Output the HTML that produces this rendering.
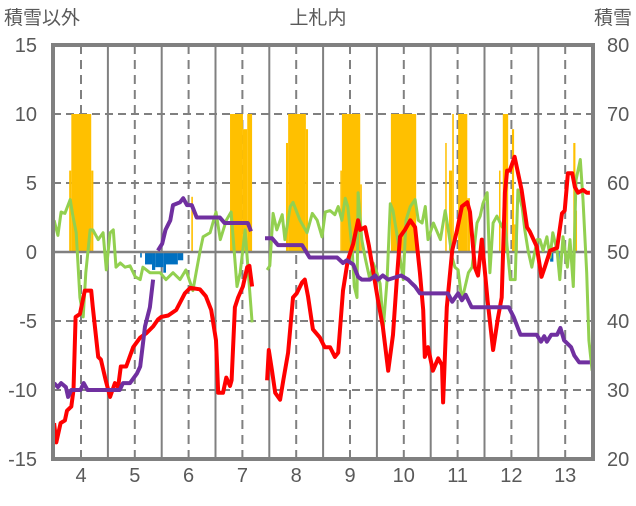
<!DOCTYPE html>
<html><head><meta charset="utf-8"><style>
body{margin:0;background:#fff;}
svg text{font-family:"Liberation Sans","Noto Sans CJK JP",sans-serif;fill:#595959;}
</style></head><body>
<svg id="c" width="636" height="501" xmlns="http://www.w3.org/2000/svg">
<text x="4" y="24" font-size="19">積雪以外</text>
<text x="318" y="24" font-size="19" text-anchor="middle">上札内</text>
<text x="632" y="24" font-size="19" text-anchor="end">積雪</text>
</svg>
<script>
const dayTicks=[4,5,6,7,8,9,10,11,12,13];
const leftTicks=[15,10,5,0,-5,-10,-15];
const rightTicks=[80,70,60,50,40,30,20];
const redT=[3.50,3.54,3.62,3.70,3.74,3.82,3.86,3.90,3.98,4.07,4.19,4.22,4.32,4.37,4.46,4.54,4.63,4.69,4.74,4.84,4.97,5.10,5.21,5.34,5.43,5.49,5.62,5.77,5.93,6.03,6.21,6.32,6.42,6.51,6.55,6.64,6.70,6.77,6.80,6.86,6.92,7.01,7.09,7.13,7.18,null,7.46,7.49,7.55,7.61,7.70,7.76,7.85,7.94,8.01,8.11,8.16,8.22,8.31,8.44,8.53,8.63,8.72,8.78,8.87,8.96,9.06,9.15,9.19,9.28,9.35,9.52,9.61,9.71,9.80,9.87,9.93,10.02,10.12,10.21,10.30,10.36,10.39,10.45,10.54,10.64,10.71,10.73,10.80,10.90,10.99,11.08,11.18,11.23,11.32,11.38,11.45,11.51,11.56,11.66,11.75,11.82,11.88,11.92,11.97,12.06,12.19,12.29,12.34,12.47,12.56,12.62,12.72,12.85,12.94,12.99,13.05,13.13,13.18,13.24,13.33,13.40,13.46];
const redV=[-12.4,-13.8,-12.4,-12.2,-11.5,-11.2,-10,-4.7,-4.5,-2.8,-2.8,-4,-7.6,-7.8,-9.3,-10.5,-9.5,-9.8,-8.3,-8.3,-6.9,-6.2,-5.9,-5.4,-4.9,-4.7,-4.6,-4.2,-3.0,-2.6,-2.7,-3.2,-4.2,-6.4,-10.2,-10.2,-9.1,-9.7,-9.3,-4,-3.3,-2.5,-1.1,-1.0,-2.5,null,-9.3,-7.1,-8.6,-10.2,-10.7,-9.3,-7.3,-3.3,-3.0,-2.2,-2.0,-3.2,-5.6,-6.2,-6.9,-6.9,-7.6,-7.3,-2.8,-0.6,0.6,2.3,1.6,1.8,0.5,-3.5,-5.4,-8.6,-6,-2,1.1,1.6,2.3,1.8,-1.5,-4.2,-7.6,-6.9,-8.6,-7.7,-8.2,-10.9,-4,0.1,1.6,3.3,3.6,2.9,-1.1,-1.7,0.9,-1.5,-3.6,-7.1,-4.8,-3.3,4.3,5.9,5.9,6.9,4.5,1.8,1.5,0.4,-1.8,-1.1,0.1,0.3,2.8,3,5.7,5.7,4.7,4.3,4.5,4.3,4.3];
const greenT=[3.50,3.57,3.63,3.70,3.80,3.85,3.91,3.98,4.04,4.09,4.17,4.22,4.32,4.41,4.47,4.54,4.60,4.65,4.73,4.82,4.91,5.01,5.10,5.15,5.28,5.38,5.47,5.58,5.71,5.84,5.95,6.08,6.14,6.21,6.27,6.40,6.51,6.59,6.70,6.79,6.83,6.90,6.96,7.05,7.11,7.18,null,7.46,7.51,7.57,7.64,7.74,7.79,7.89,7.94,8.07,8.20,8.30,8.39,8.48,8.54,8.63,8.72,8.78,8.85,8.91,8.96,9.04,9.08,9.13,9.15,9.22,9.28,9.37,9.43,9.50,9.56,9.62,9.69,9.75,9.80,9.88,9.93,9.99,10.04,10.12,10.21,10.27,10.34,10.40,10.45,10.55,10.68,10.77,10.82,10.90,10.95,11.01,11.08,11.20,11.27,11.36,11.42,11.47,11.55,11.60,11.66,11.73,11.83,11.88,11.98,12.07,12.12,12.20,12.25,12.31,12.38,12.48,12.53,12.59,12.66,12.72,12.77,12.85,12.90,12.96,13.04,13.09,13.15,13.20,13.28,13.33,13.40,13.44,13.50];
const greenV=[2.3,1.2,2.9,2.8,3.8,2.6,1.4,-3.3,-4.7,-1.5,1.6,1.6,0.9,1.4,-1.3,1.4,1.6,-1.1,-0.8,-1.1,-1.0,-1.8,-2.0,-1.1,-1.5,-1.5,-1.5,-2.0,-1.5,-2.0,-1.3,-2.8,-1.5,0,1.1,1.4,2.9,0.9,2.3,2.9,0.9,-2.5,-1.5,1.6,-1.5,-5.1,null,-1.3,-1.0,2.8,1.6,2.7,0.9,3.3,3.6,2.3,1.4,2.8,2.3,1.1,2.9,3.0,2.7,3.3,2.3,3.9,3.3,0.1,-2.5,-3.3,4.3,0.9,-0.4,-2,-0.8,-1.5,-2.3,-5.4,-2,3.5,3,1.1,-0.4,-2,2.3,3.3,3.8,2.3,2.1,3.3,0.9,2.1,0.9,3.0,1.8,-0.4,-1.1,-1.3,-3.5,-1.5,-1.1,2.1,2.6,3.5,4.3,-1.5,2.1,2.6,1.8,2.1,-2,-2,4.5,3.2,1.6,0.1,-1.1,0.9,0.9,0.1,1.1,-0.4,1.4,0.1,-2,1.1,-1.1,0.9,-2.5,5.2,6.7,3.8,-1.5,-6.4,-8.6,-7.8];
const purpleT=[3.50,3.57,3.63,3.72,3.76,3.82,3.99,4.05,4.12,4.72,4.78,4.91,5.04,5.10,5.19,5.28,5.34,null,5.43,5.51,5.57,5.66,5.71,5.84,5.90,5.97,6.06,6.15,6.58,6.67,6.76,7.10,7.16,null,7.42,7.55,7.66,8.11,8.25,8.76,8.87,8.94,9.06,9.15,9.22,9.37,9.47,9.52,9.61,9.71,9.95,10.08,10.13,10.21,10.30,10.82,10.90,11.01,11.08,11.15,11.26,11.95,12.04,12.17,12.47,12.55,12.61,12.66,12.74,12.85,12.91,12.98,13.11,13.17,13.26,13.46];
const purpleV=[-9.5,-9.8,-9.5,-9.8,-10.5,-10,-10,-9.5,-10,-10,-9.5,-9.5,-8.8,-8.3,-5.4,-4,-2,null,0.1,0.6,1.6,2.3,3.4,3.6,3.9,3.4,3.4,2.5,2.5,2.1,2.1,2.1,1.5,null,1.0,1.0,0.5,0.5,-0.4,-0.4,-0.8,-0.6,-0.9,-1.8,-2,-2,-1.7,-2,-1.7,-2,-1.7,-2,-2.2,-2.5,-3,-3,-3.6,-3,-3.5,-3.1,-4,-4,-4.7,-6,-6,-6.5,-6.1,-6.5,-6,-6,-5.5,-6.4,-6.9,-7.5,-8.0,-8.0];
const snowStart=[3.78,3.82,4.19,6.05,6.77,7.01,7.09,7.81,7.85,8.18,8.82,8.85,9.19,9.76,10.77,10.84,10.90,11.01,11.18,11.77,11.84,12.01,12.05,13.15,13.19];
const snowEnd=[3.82,4.19,4.23,6.08,7.01,7.09,7.18,7.85,8.18,8.22,8.85,9.19,9.22,10.23,10.79,10.90,10.93,11.18,11.23,11.79,11.94,12.05,12.12,13.19,13.22];
const snowVal=[5.9,10,5.9,4,10,8.9,10,7.9,10,8.9,5.9,10,4.9,10,7.9,5.9,10,10,3.9,5.9,10,8.9,2,7.9,3];
const meltStart=[5.10,5.19,5.32,5.38,5.53,5.58,5.80,12.72,12.87];
const meltEnd=[5.13,5.32,5.38,5.53,5.58,5.80,5.90,12.78,12.89];
const meltVal=[-0.4,-0.9,-1.3,-1.1,-1.5,-0.9,-0.6,-0.7,-1.5];

const NS="http://www.w3.org/2000/svg";
const svg=document.getElementById('c');
const L=53,R=593,T=45,B=459;
const x=t=>81+(t-4)*53.8;
const y=v=>252-v*13.8;
const yr=v=>T+(80-v)*(B-T)/60;
function mk(tag,attrs,parent){const e=document.createElementNS(NS,tag);for(const k in attrs)e.setAttribute(k,attrs[k]);(parent||svg).appendChild(e);return e;}
const grid=mk('g',{});


[10,5,-5,-10].forEach(v=>{const l=mk('line',{x1:L,x2:R,y1:y(v),y2:y(v),stroke:'#808080','stroke-width':2,'stroke-dasharray':'8,5'},grid);

});
dayTicks.forEach(d=>{const l=mk('line',{x1:x(d),x2:x(d),y1:T,y2:B,stroke:'#808080','stroke-width':2,'stroke-dasharray':'9,6'},grid);


if(d<13){const s=mk('line',{x1:x(d+0.5),x2:x(d+0.5),y1:T,y2:B,stroke:'#808080','stroke-width':2},grid);

}});
function bars(st,en,val,col,name){const g=mk('g',{});


st.forEach((s,i)=>{const v=val[i];const r=mk('rect',{x:x(s),width:Math.max(1.5,x(en[i])-x(s)),y:Math.min(y(0),y(v)),height:Math.abs(y(v)-y(0)),fill:col},g);

});}
bars(snowStart,snowEnd,snowVal,'#FFC000','snowfall-bars');
bars(meltStart,meltEnd,meltVal,'#0070C0','melt-bars');
const z=mk('line',{x1:L,x2:R,y1:y(0),y2:y(0),stroke:'#808080','stroke-width':2.5});


function line(ts,vs,col,w,name){let d='',pen=false;ts.forEach((t,i)=>{if(t===null){pen=false;return;}d+=(pen?'L':'M')+x(t).toFixed(1)+','+y(vs[i]).toFixed(1);pen=true;});
const p=mk('path',{d:d,fill:'none',stroke:col,'stroke-width':w,'stroke-linejoin':'round'});

}
line(greenT,greenV,'#92D050',3,'green-series-line');
line(redT,redV,'#FF0000',4,'temperature-line');
line(purpleT,purpleV,'#7030A0',4,'snow-depth-line');
const f=mk('rect',{x:L,y:T,width:R-L,height:B-T,fill:'none',stroke:'#808080','stroke-width':4});


leftTicks.forEach(v=>{const t=mk('text',{x:37,y:y(v)+7,'font-size':20,'text-anchor':'end'});t.textContent=v;

});
rightTicks.forEach(v=>{const t=mk('text',{x:607,y:yr(v)+7,'font-size':20});t.textContent=v;

});
dayTicks.forEach(d=>{const t=mk('text',{x:x(d),y:482,'font-size':20,'text-anchor':'middle'});t.textContent=d;

});
</script>
</body></html>
